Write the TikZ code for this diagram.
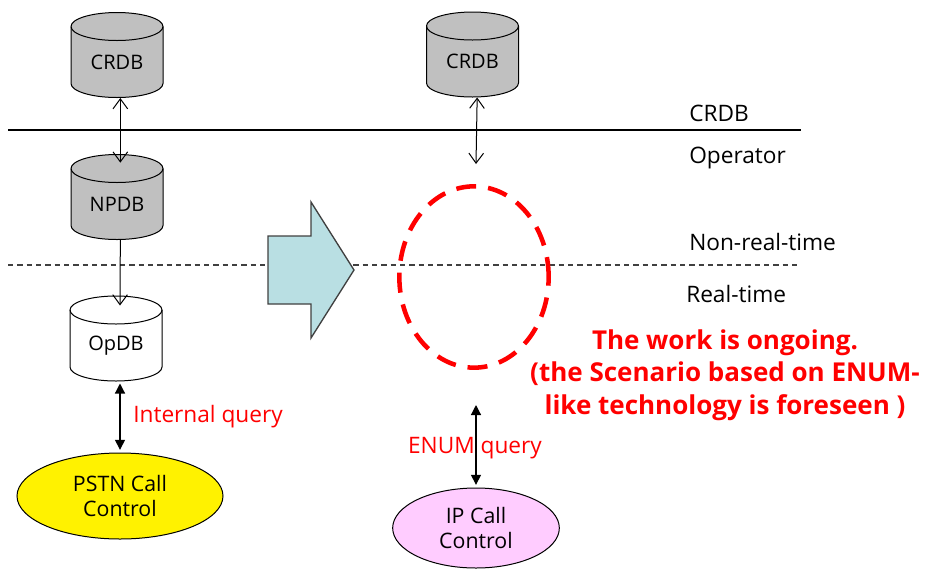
\documentclass[tikz,border=0pt]{standalone}
\usepackage{fontspec}
\setmainfont{Open Sans}
\usetikzlibrary{shapes.geometric,arrows.meta,calc}

\definecolor{dbgray}{HTML}{C0C0C0}
\definecolor{ipPink}{HTML}{FFCCFF}
\definecolor{shiftBlue}{HTML}{B9DFE3}
\definecolor{lineGray}{HTML}{404040}

\tikzset{
  % upright database drum; the inner node "-n" carries the anchors
  drum/.pic={
    \path[pic actions] (-46,-28.5) -- (-46,28.5)
      arc[start angle=180,end angle=0,x radius=46,y radius=14]
      -- (46,-28.5)
      arc[start angle=0,end angle=-180,x radius=46,y radius=14] -- cycle;
    \draw[line width=0.75pt] (-46,-28.5)
      arc[start angle=180,end angle=0,x radius=46,y radius=14];
    \node[inner sep=0pt,minimum width=69pt,minimum height=63.75pt,
          text depth=0pt] (-n) at (0,0) {};
    \node[font=\fontsize{15}{17}\selectfont] (-t) at (0,7) {#1};
  },
  dbfill/.style={draw=black,line width=0.75pt,fill=#1},
  layerlabel/.style={anchor=west,inner sep=0pt,font=\fontsize{17}{20}\selectfont},
  querylabel/.style={text=red,inner sep=0pt,font=\fontsize{17}{20}\selectfont},
  callctrl/.style={ellipse,draw=black,line width=0.75pt,inner sep=0pt,align=center,
    font=\fontsize{16}{19}\selectfont},
  openlink/.style={line width=0.75pt,{Straight Barb[length=7.5pt,width=11pt]}-{Straight Barb[length=7.5pt,width=11pt]}},
  openfeed/.style={line width=0.75pt,-{Straight Barb[length=7.5pt,width=11pt]}},
  querylink/.style={line width=0.9pt,{Triangle[length=7.5pt,width=7.5pt]}-{Triangle[length=7.5pt,width=7.5pt]}},
}

\begin{document}
\begin{tikzpicture}[x=0.75pt,y=-0.75pt]
\useasboundingbox (0,0) rectangle (925,569);

% layer boundaries
\coordinate (opTopL) at (8,130);
\coordinate (opTopR) at (801,130);
\coordinate (rtL) at (8,265);
\coordinate (rtR) at (799,265);
\draw[line width=0.9pt] (opTopL) -- (opTopR);
\draw[lineGray,line width=1pt,dash pattern=on 4pt off 3pt] (rtL) -- (rtR);

% layer names
\node[layerlabel] (lCRDB) at (689,113) {CRDB};
\node[layerlabel] (lOper) at (689,158) {Operator};
\node[layerlabel] (lNRT)  at (689,242) {Non-real-time};
\node[layerlabel] (lRT)   at (686,294) {Real-time};

% PSTN side
\pic[dbfill=dbgray] (crdbL) at (117,55) {drum=CRDB};
\pic[dbfill=dbgray] (npdb)  at (117,197) {drum=NPDB};
\pic[dbfill=white]  (opdb)  at (116,338.5) {drum=OpDB};
\node[callctrl,fill=yellow,minimum width=154.5pt,minimum height=64.5pt]
  (pstn) at (120,496) {PSTN Call\\Control};

\draw[openlink] ([xshift=2.5pt]crdbL-n.south) -- ([xshift=2.5pt,yshift=-6.5pt]npdb-n.north);
\draw[openfeed] ([xshift=2.5pt]npdb-n.south) -- ([xshift=3pt,yshift=-7.5pt]opdb-n.north);
\draw[querylink] ([xshift=3pt,yshift=-1.5pt]opdb-n.south) -- ([yshift=2pt]pstn.north);
\node[querylabel,anchor=west] (iq) at (133,417) {Internal query};

% migration arrow
\draw[fill=shiftBlue,draw=lineGray,line width=1pt]
  (268,236) -- (311,236) -- (311,202) -- (354,270) -- (311,338) -- (311,304) -- (268,304) -- cycle;

% IP side
\pic[dbfill=dbgray] (crdbR) at (472.5,54.5) {drum=CRDB};
\coordinate (crdbRend) at (476,164);
\draw[openlink] ([xshift=3.5pt]crdbR-n.south) -- (crdbRend);

\node[ellipse,draw=red,line width=3.4pt,dash pattern=on 15pt off 9pt,
      minimum width=112pt,minimum height=136pt,inner sep=0pt] (ongoing) at (474,277) {};

\node[querylabel] (eq) at (475,448) {ENUM query};
\node[callctrl,fill=ipPink,minimum width=125pt,minimum height=60pt]
  (ipcc) at (476,528) {IP Call\\Control};
\coordinate (eqTop) at (476,405);
\draw[querylink] (eqTop) -- ([yshift=2pt]ipcc.north);

\node[text=red,align=center,inner sep=0pt,
      font=\bfseries\fontsize{19.5}{24.4}\selectfont] (note) at (725,375)
  {The work is ongoing.\\(the Scenario based on ENUM-\\like technology is foreseen~)};
\end{tikzpicture}
\end{document}
